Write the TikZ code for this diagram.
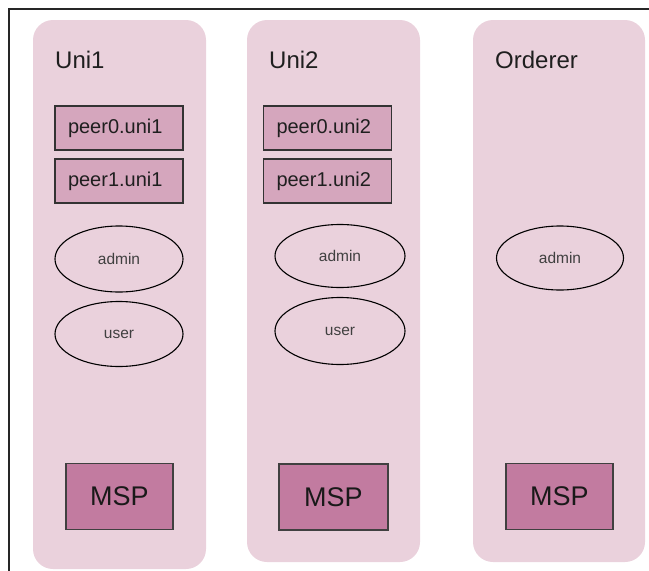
\documentclass[tikz,border=0pt]{standalone}
\usepackage{fontspec}
\setmainfont{Liberation Sans}
\usetikzlibrary{shapes.geometric,positioning}
\definecolor{orgfill}{HTML}{EAD1DC}
\definecolor{peerfill}{HTML}{D5A6BD}
\definecolor{mspfill}{HTML}{C27BA0}

\begin{document}
\begin{tikzpicture}[x=1pt,y=-1pt,
  org/.style={fill=orgfill,rounded corners=20pt},
  orgtitle/.style={anchor=base west,inner sep=0pt,text=black!88,font=\fontsize{24}{24}\selectfont},
  peer/.style={draw=black!80,line width=1.1pt,fill=peerfill,minimum height=44pt,
    text width=102pt,inner xsep=13pt,inner ysep=0pt,align=left,text=black!88,
    font=\fontsize{20}{20}\selectfont},
  role/.style={draw=black,line width=1.1pt,ellipse,inner sep=0pt,text=black!75,
    font=\fontsize{15.5}{15.5}\selectfont},
  msp/.style={draw=black!75,line width=1.2pt,fill=mspfill,minimum width=107pt,
    minimum height=66pt,inner sep=0pt,text=black!90,font=\fontsize{27}{27}\selectfont}]
\useasboundingbox (0,0) rectangle (649,571);

% frame of the screenshot
\coordinate (tl) at (9,9);
\coordinate (tr) at (649,9);
\coordinate (bl) at (9,571);
\draw[line width=1.6pt,black!85] (bl) -- (tl) -- (tr);

% Organisations
\fill[org] (33,20) rectangle (206,569);
\fill[org] (247,20) rectangle (420,562);
\fill[org] (473,20) rectangle (645,562);

\node[orgtitle] (uni1) at (55,68) {Uni1};
\node[orgtitle] (uni2) at (269,68) {Uni2};
\node[orgtitle] (orderer) at (495,68) {Orderer};

% Peers
\node[peer] (p0u1) at (119,128) {peer0.uni1};
\node[peer] (p1u1) at (119,181) {peer1.uni1};
\node[peer] (p0u2) at (327.5,128) {peer0.uni2};
\node[peer] (p1u2) at (327.5,181) {peer1.uni2};

% Identities
\node[role,minimum width=128pt,minimum height=66pt] (admin1) at (119,259) {admin};
\node[role,minimum width=128pt,minimum height=65pt] (user1) at (119,334) {user};
\node[role,minimum width=130pt,minimum height=63pt] (admin2) at (340,256) {admin};
\node[role,minimum width=130pt,minimum height=67pt] (user2) at (340,331) {user};
\node[role,minimum width=127pt,minimum height=64pt] (admin3) at (560,258) {admin};

% MSP
\node[msp] (msp1) at (119.5,496.5) {MSP};
\node[msp,minimum width=109pt] (msp2) at (333.5,497) {MSP};
\node[msp] (msp3) at (559.5,496.5) {MSP};

\end{tikzpicture}
\end{document}
